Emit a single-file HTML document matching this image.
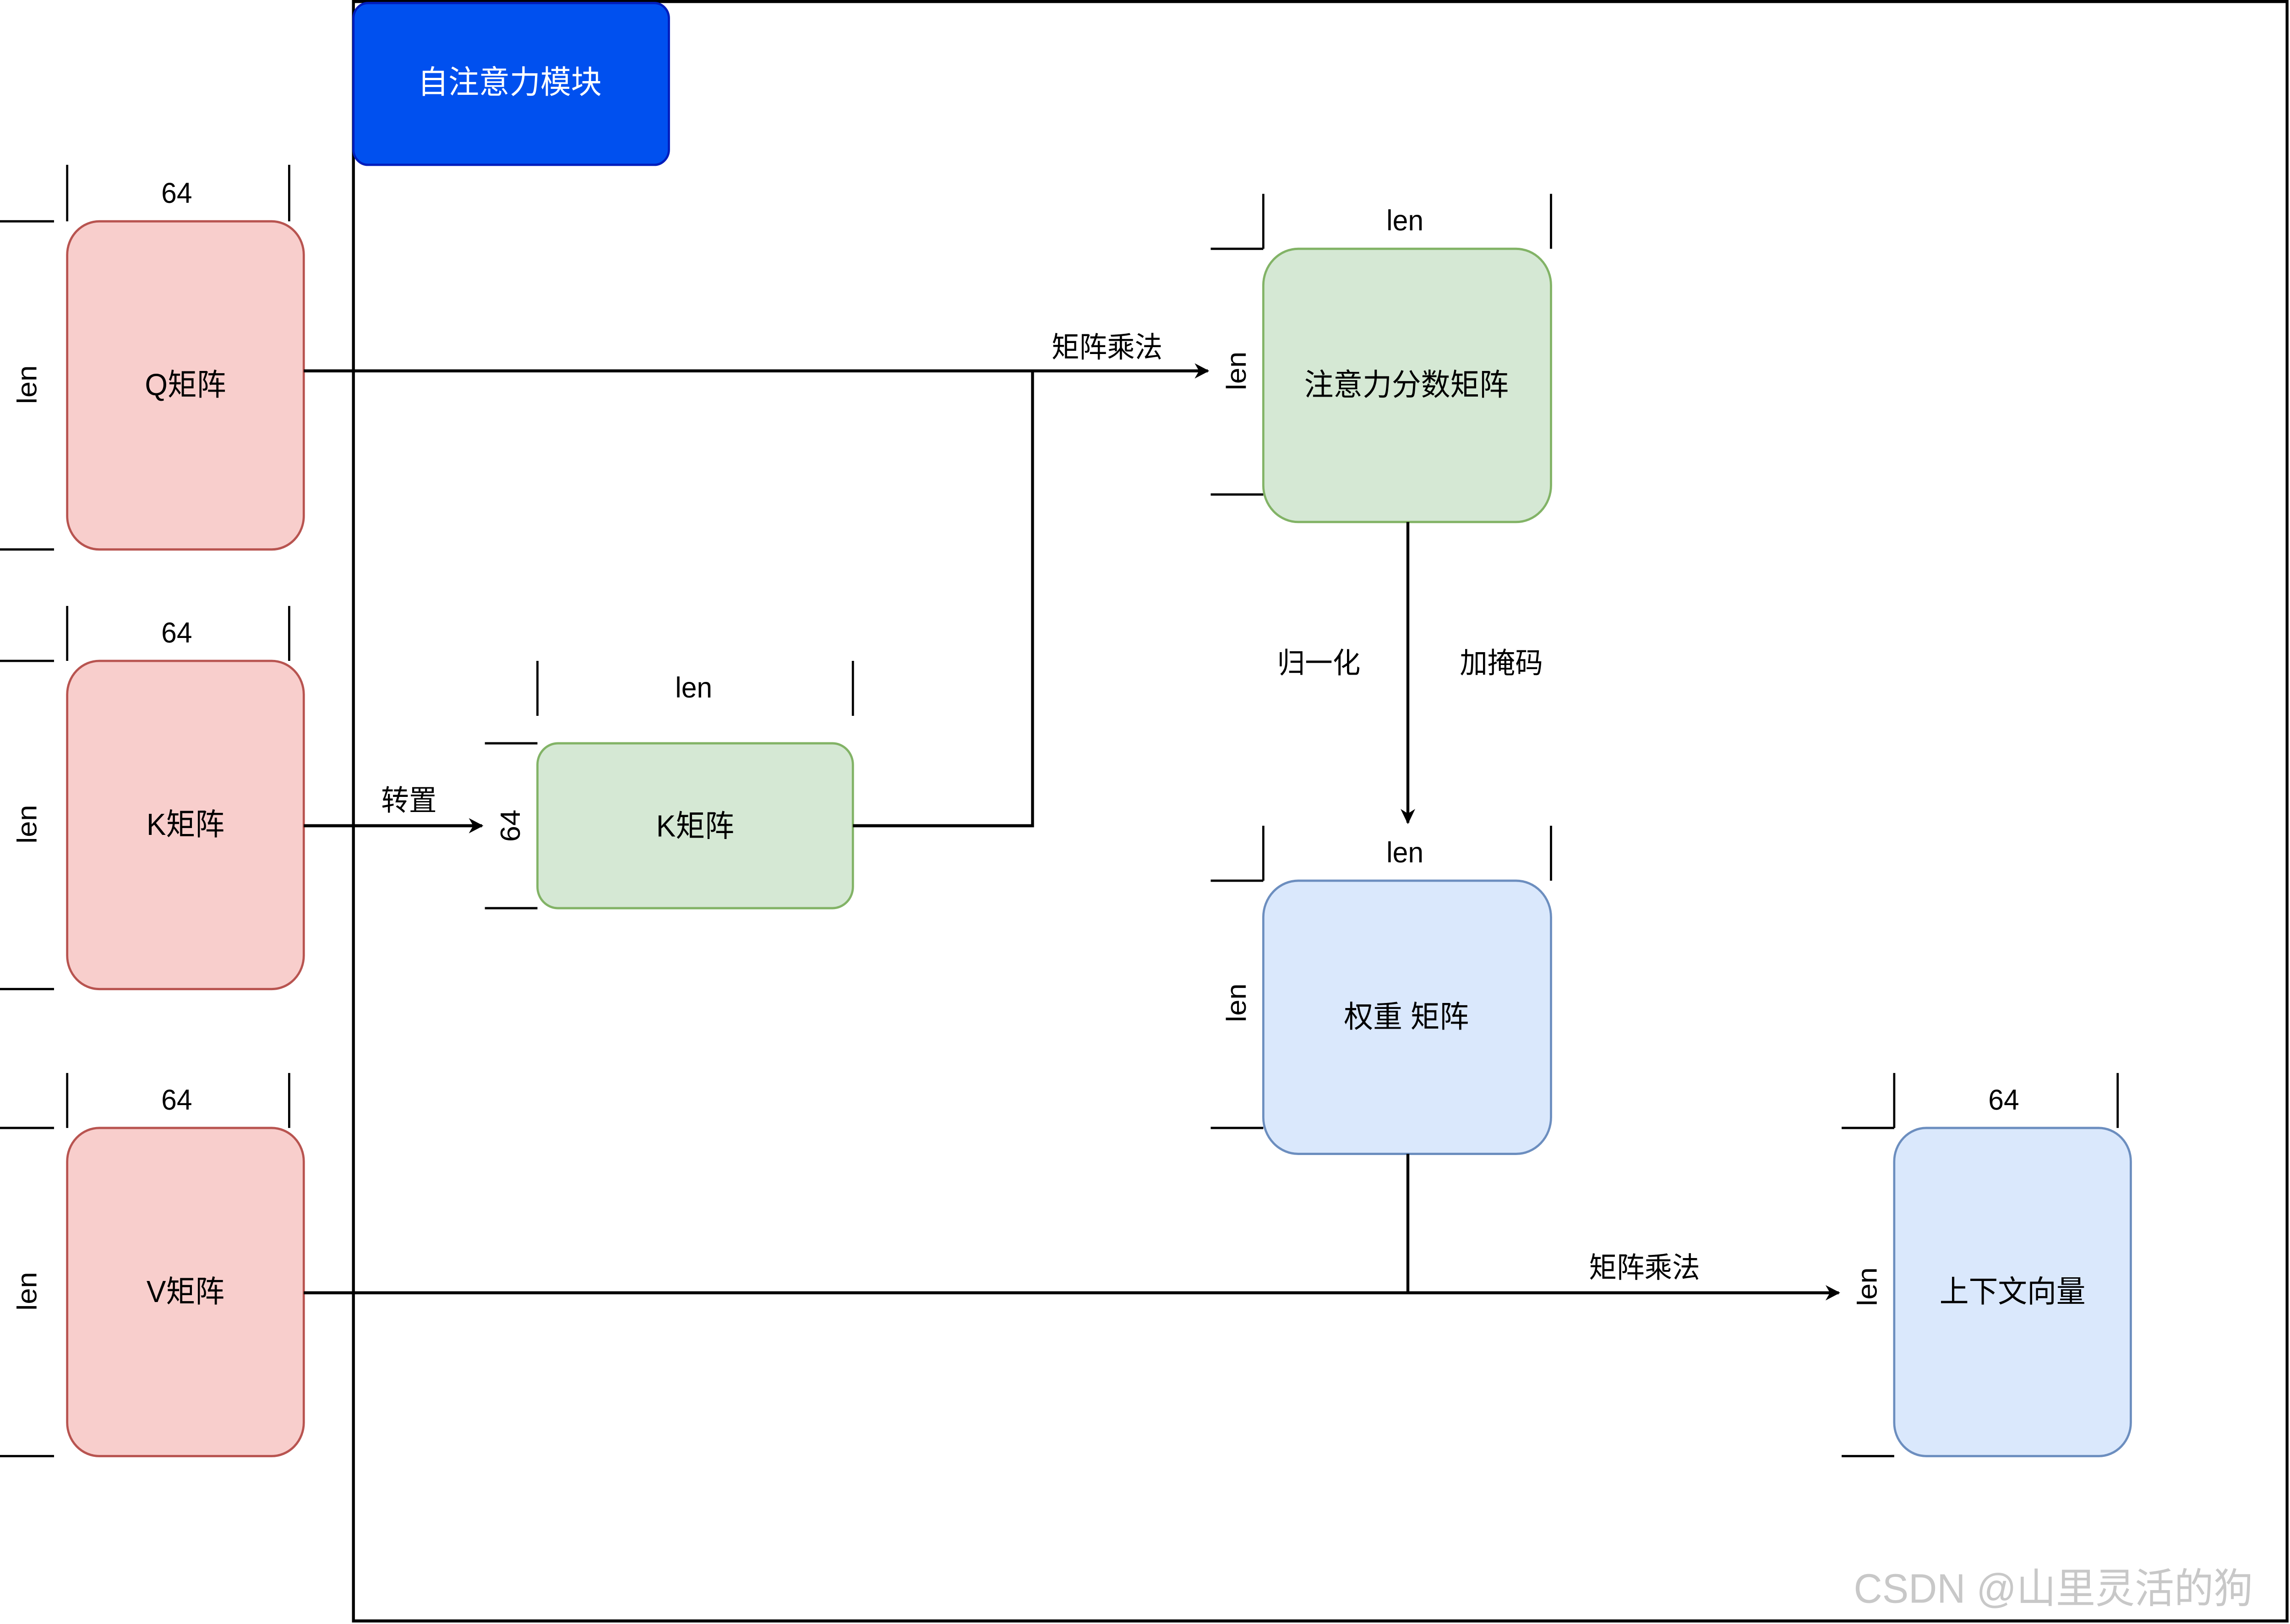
<!DOCTYPE html>
<html><head><meta charset="utf-8"><style>
html,body{margin:0;padding:0;background:#fff;overflow:hidden;width:100%;height:100%}
svg{display:block;position:fixed;left:0;top:0;width:100vw;height:100vh}
text{font-family:"Liberation Sans","Noto Sans CJK SC",sans-serif;fill:#000}
</style></head><body>
<svg viewBox="0 0 1568 1064" preserveAspectRatio="none" xmlns="http://www.w3.org/2000/svg">
<defs><marker id="a" markerWidth="10" markerHeight="10" refX="9" refY="5" orient="auto" markerUnits="userSpaceOnUse"><path d="M0,0 L10,5 L0,10 L3,5 Z" fill="#000"/></marker></defs>
<rect x="0" y="0" width="1568" height="1064" fill="#fff"/>
<rect x="242" y="1" width="1324" height="1061" fill="none" stroke="#000" stroke-width="2"/>
<rect x="242" y="2" width="216" height="106" rx="10" fill="#0050ef" stroke="#001dbc" stroke-width="1.5"/>
<text x="349" y="61" font-size="21" text-anchor="middle" style="fill:#fff">自注意力模块</text>

<g stroke="#000" stroke-width="1.5" fill="none">
<path d="M46 108V145M198 108V145M0 145H37M0 360H37"/>
<path d="M46 397V433M198 397V433M0 433H37M0 648H37"/>
<path d="M46 703V739M198 703V739M0 739H37M0 954H37"/>
<path d="M368 433V469M584 433V469M332 487H368M332 595H368"/>
<path d="M865 127V163M1062 127V163M829 163H865M829 324H865"/>
<path d="M865 541V577M1062 541V577M829 577H865M829 739H865"/>
<path d="M1297 703V739M1450 703V739M1261 739H1297M1261 954H1297"/>
</g>

<rect x="46" y="145" width="162" height="215" rx="22" fill="#f8cecc" stroke="#b85450" stroke-width="1.5"/>
<rect x="46" y="433" width="162" height="215" rx="22" fill="#f8cecc" stroke="#b85450" stroke-width="1.5"/>
<rect x="46" y="739" width="162" height="215" rx="22" fill="#f8cecc" stroke="#b85450" stroke-width="1.5"/>
<rect x="368" y="487" width="216" height="108" rx="14" fill="#d5e8d4" stroke="#82b366" stroke-width="1.5"/>
<rect x="865" y="163" width="197" height="179" rx="24" fill="#d5e8d4" stroke="#82b366" stroke-width="1.5"/>
<rect x="865" y="577" width="197" height="179" rx="24" fill="#dae8fc" stroke="#6c8ebf" stroke-width="1.5"/>
<rect x="1297" y="739" width="162" height="215" rx="22" fill="#dae8fc" stroke="#6c8ebf" stroke-width="1.5"/>

<g font-size="20" text-anchor="middle">
<text x="127" y="259">Q矩阵</text>
<text x="127" y="547">K矩阵</text>
<text x="127" y="853">V矩阵</text>
<text x="476" y="548">K矩阵</text>
<text x="963" y="259">注意力分数矩阵</text>
<text x="963" y="673">权重 矩阵</text>
<text x="1378" y="853">上下文向量</text>
</g>
<g font-size="19" text-anchor="middle">
<text x="121" y="133">64</text>
<text x="121" y="421">64</text>
<text x="121" y="727">64</text>
<text x="475" y="457">len</text>
<text x="962" y="151">len</text>
<text x="962" y="565">len</text>
<text x="1372" y="727">64</text>
<text transform="translate(25,252) rotate(-90)">len</text>
<text transform="translate(25,540) rotate(-90)">len</text>
<text transform="translate(25,846) rotate(-90)">len</text>
<text transform="translate(356,541) rotate(-90)">64</text>
<text transform="translate(853,243) rotate(-90)">len</text>
<text transform="translate(853,657) rotate(-90)">len</text>
<text transform="translate(1285,843) rotate(-90)">len</text>
</g>

<g stroke="#000" stroke-width="2" fill="none">
<path d="M208 243H827" marker-end="url(#a)"/>
<path d="M584 541H707V243"/>
<path d="M208 541H330" marker-end="url(#a)"/>
<path d="M964 342V539" marker-end="url(#a)"/>
<path d="M208 847H1259" marker-end="url(#a)"/>
<path d="M964 756V847"/>
</g>
<g font-size="19" text-anchor="middle">
<text x="758" y="234">矩阵乘法</text>
<text x="280" y="531">转置</text>
<text x="903" y="441">归一化</text>
<text x="1028" y="441">加掩码</text>
<text x="1126" y="837">矩阵乘法</text>
</g>
<text x="1406" y="1050" font-size="27" text-anchor="middle" style="fill:#c8c8c8">CSDN @山里灵活的狗</text>
</svg>
</body></html>
